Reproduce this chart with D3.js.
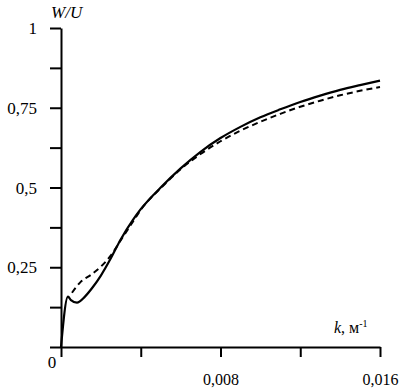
<!DOCTYPE html>
<html>
<head>
<meta charset="utf-8">
<script src="https://d3js.org/d3.v7.min.js"></script>
<style>
    html, body { margin: 0; padding: 0; background: #fff; }
</style>
</head>
<body>
<svg width="405" height="390"></svg>
<script>
    // solid curve: k and W/U
    var solidK = [0, 0.00035, 0.0005, 0.0008, 0.0012, 0.0016, 0.002, 0.0025, 0.003, 0.0036, 0.004, 0.005, 0.006, 0.007, 0.008, 0.009, 0.010, 0.011, 0.012, 0.013, 0.014, 0.015, 0.016];
    var solidW = [0, 0.158, 0.147, 0.139, 0.158, 0.188, 0.224, 0.278, 0.338, 0.398, 0.432, 0.50, 0.56, 0.612, 0.655, 0.69, 0.72, 0.745, 0.768, 0.788, 0.806, 0.821, 0.835];
    // dashed curve
    var dashK = [0.00055, 0.001, 0.0015, 0.002, 0.0025, 0.003, 0.0036, 0.004, 0.005, 0.006, 0.007, 0.008, 0.009, 0.010, 0.011, 0.012, 0.013, 0.014, 0.015, 0.016];
    var dashW = [0.17, 0.205, 0.226, 0.252, 0.287, 0.335, 0.392, 0.43, 0.498, 0.557, 0.605, 0.645, 0.678, 0.706, 0.731, 0.753, 0.772, 0.789, 0.803, 0.815];

    var xTicks = [0, 0.004, 0.008, 0.012, 0.016];
    var xTickLabels = ["", "", "0,008", "", "0,016"];
    var yTicks = [0, 0.125, 0.25, 0.375, 0.5, 0.625, 0.75, 0.875, 1];
    var yTickLabels = ["", "", "0,25", "", "0,5", "", "0,75", "", "1"];

    var serif = "Liberation Serif";

    var svg = d3.select("svg");

    var x = d3.scaleLinear().domain([0, 0.016]).range([61, 380]);
    var y = d3.scaleLinear().domain([0, 1]).range([347, 28]);

    var xAxis = svg.append("g")
        .attr("transform", "translate(0," + y(0) + ")")
        .call(d3.axisBottom(x).tickValues(xTicks).tickSize(10).tickSizeOuter(0)
            .tickFormat(function(d, i) { return xTickLabels[i]; }));

    var yAxis = svg.append("g")
        .attr("transform", "translate(" + x(0) + ",0)")
        .call(d3.axisLeft(y).tickValues(yTicks).tickSize(11).tickSizeOuter(0)
            .tickFormat(function(d, i) { return yTickLabels[i]; }));

    svg.selectAll(".domain, .tick line")
        .attr("stroke", "#000")
        .attr("stroke-width", 2);

    xAxis.selectAll("text")
        .attr("font-family", serif)
        .attr("font-size", 16)
        .attr("fill", "#000")
        .attr("y", 27);

    yAxis.selectAll("text")
        .attr("font-family", serif)
        .attr("font-size", 17)
        .attr("fill", "#000")
        .attr("x", -24)
        .attr("dy", "0.33em");

    svg.append("text")
        .attr("x", 52)
        .attr("y", 368)
        .attr("text-anchor", "middle")
        .attr("font-family", serif)
        .attr("font-size", 17)
        .text("0");

    svg.append("text")
        .attr("x", 51)
        .attr("y", 18)
        .attr("font-family", serif)
        .attr("font-size", 17)
        .attr("font-style", "italic")
        .text("W/U");

    var xl = svg.append("text")
        .attr("x", 334)
        .attr("y", 333)
        .attr("font-family", serif)
        .attr("font-size", 16);
    xl.append("tspan").attr("font-style", "italic").text("k");
    xl.append("tspan").text(", м");
    xl.append("tspan").attr("dy", -6).attr("font-size", 10).text("-1");

    var line = d3.line()
        .x(function(d) { return x(d[0]); })
        .y(function(d) { return y(d[1]); })
        .curve(d3.curveMonotoneX);

    svg.append("path")
        .datum(solidK.map(function(k, i) { return [k, solidW[i]]; }))
        .attr("fill", "none")
        .attr("stroke", "#000")
        .attr("stroke-width", 2.2)
        .attr("d", line);

    svg.append("path")
        .datum(dashK.map(function(k, i) { return [k, dashW[i]]; }))
        .attr("fill", "none")
        .attr("stroke", "#000")
        .attr("stroke-width", 2)
        .attr("stroke-dasharray", "6,4")
        .attr("d", line);
</script>
</body>
</html>
